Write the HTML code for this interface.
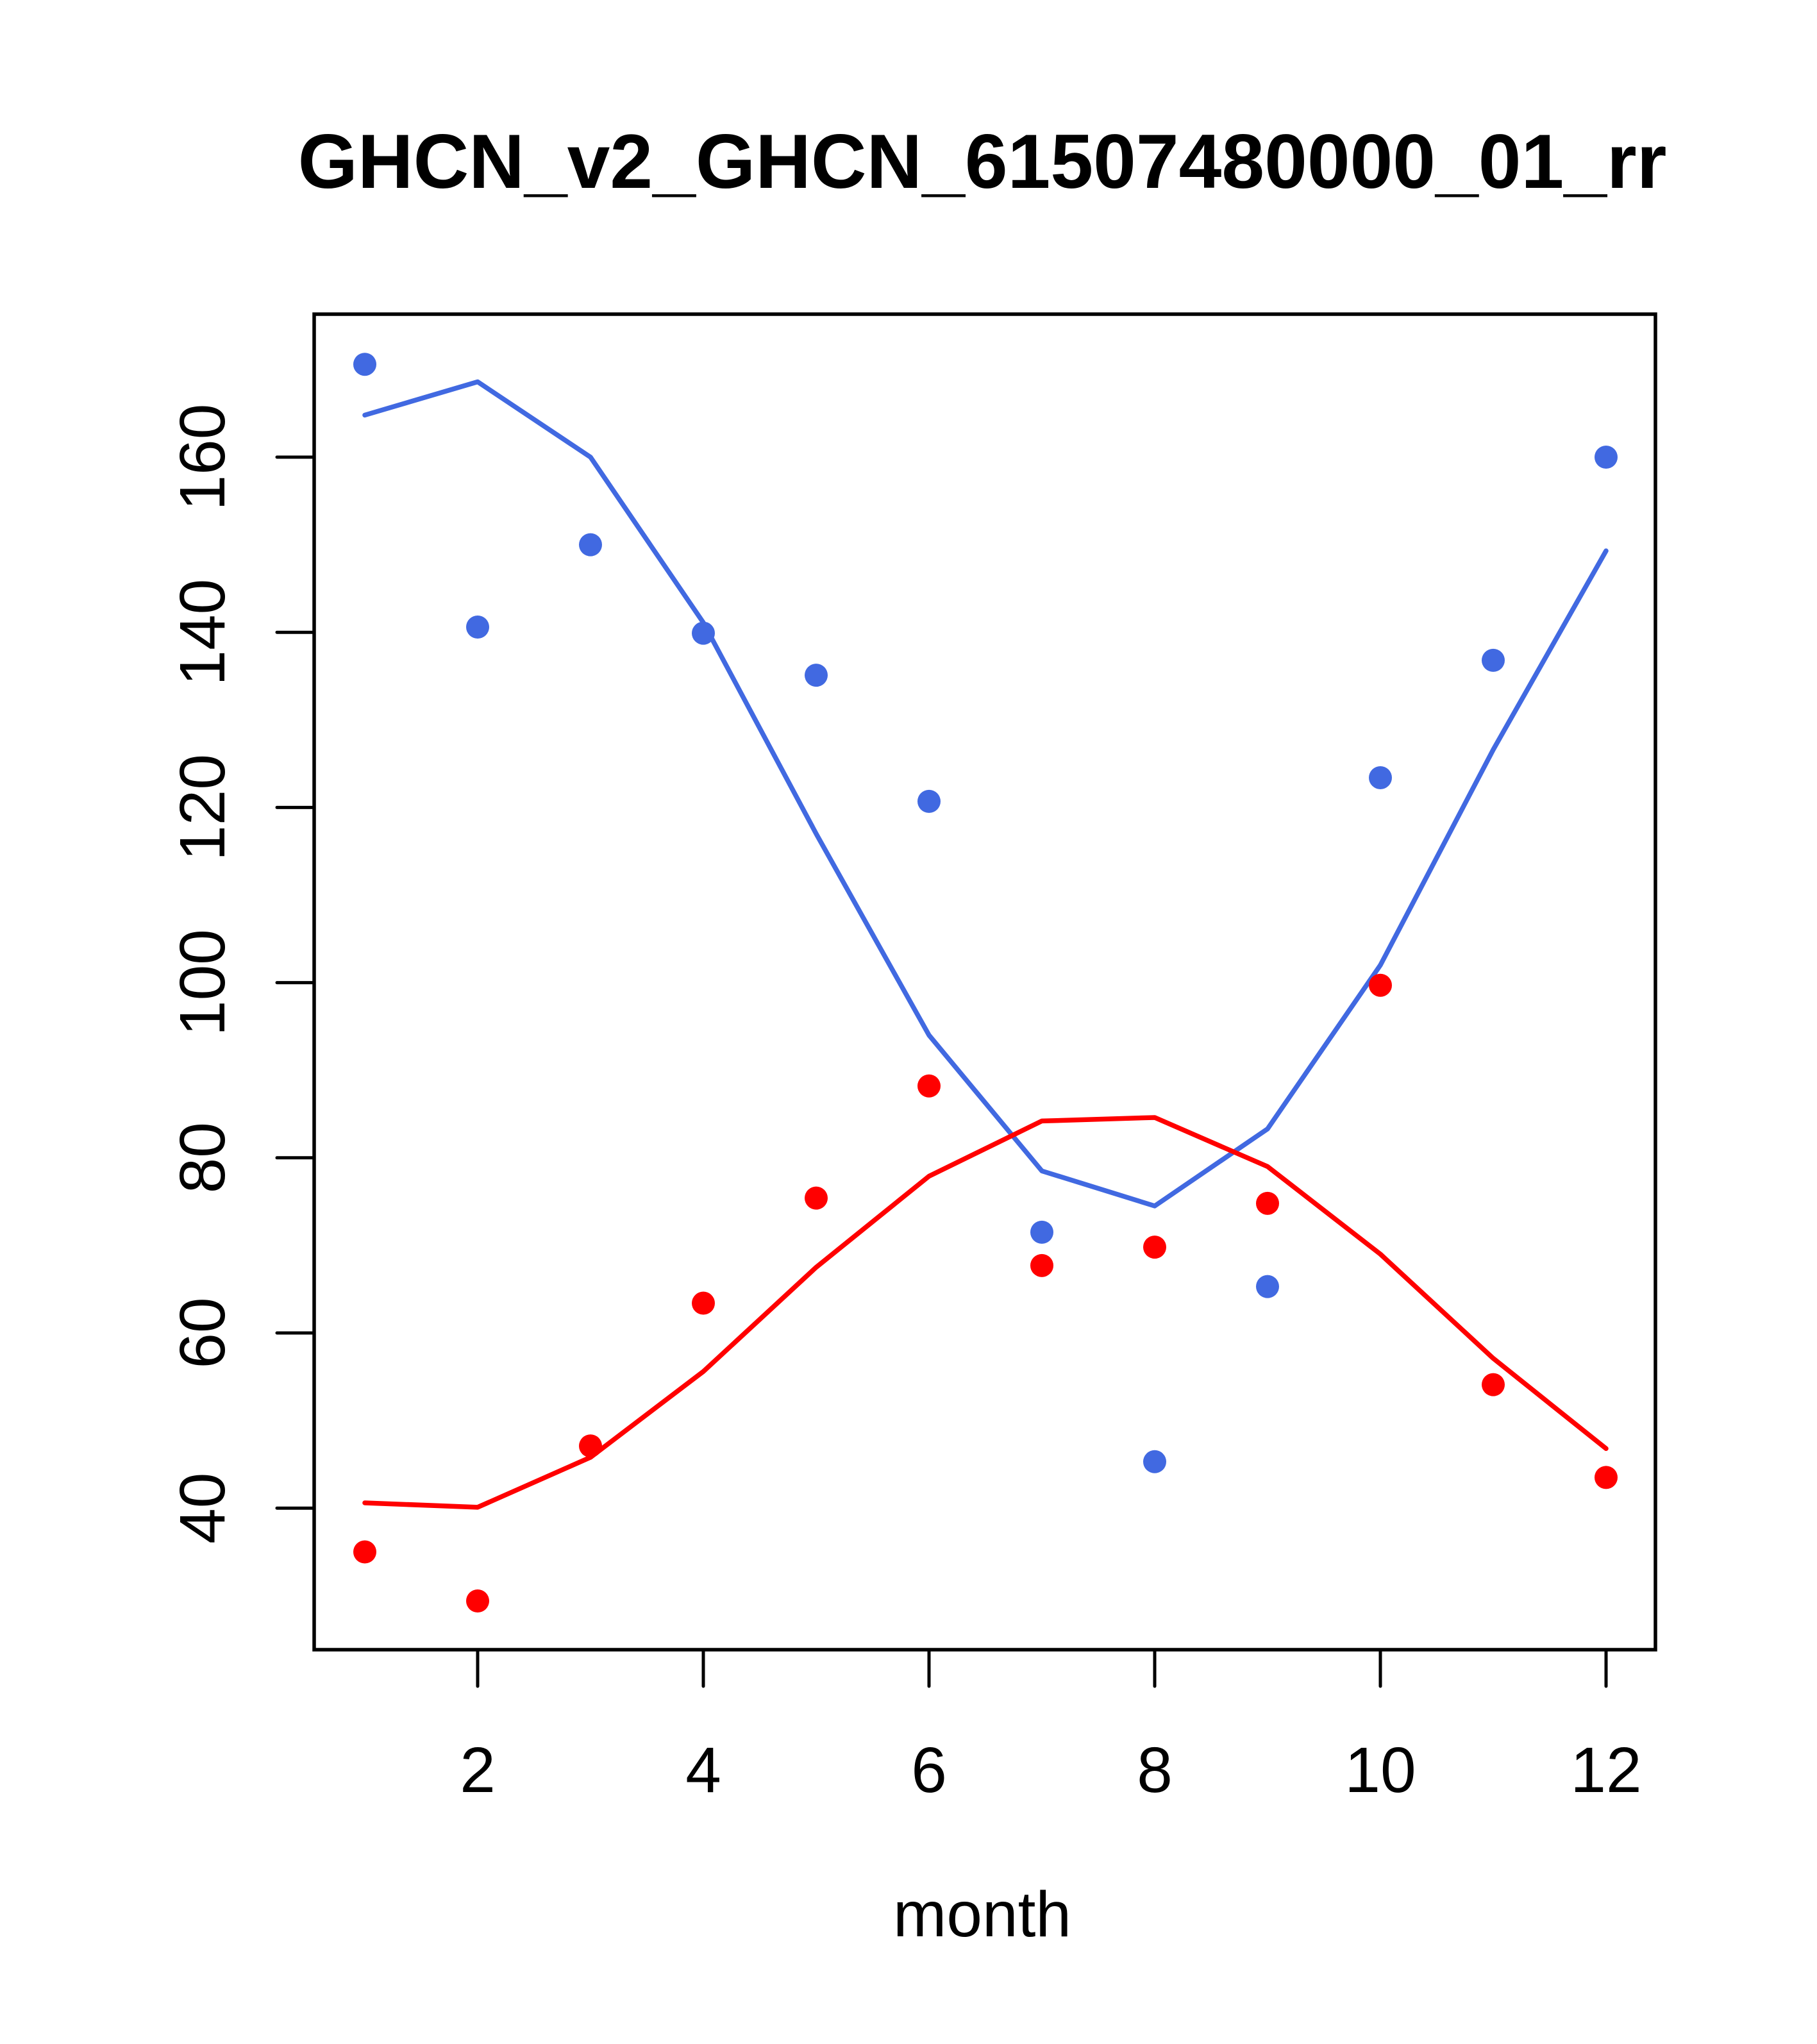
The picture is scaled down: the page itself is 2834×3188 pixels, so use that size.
<!DOCTYPE html>
<html><head><meta charset="utf-8"><style>body{margin:0;background:#fff}svg{display:block}text{font-family:"Liberation Sans",Arial,sans-serif}</style></head>
<body>
<svg id="chart" width="2834" height="3188" xmlns="http://www.w3.org/2000/svg">
<rect width="2834" height="3188" fill="#fff"/>
<text x="1532" y="293" font-size="120" font-weight="bold" text-anchor="middle">GHCN_v2_GHCN_61507480000_01_rr</text>
<text x="1532" y="3020" font-size="100" text-anchor="middle">month</text>
<g id="marks"></g>
<rect x="490" y="490" width="2092" height="2083" fill="none" stroke="#000" stroke-width="5.5"/>
</svg>
<script>
const months=[1,2,3,4,5,6,7,8,9,10,11,12];
const bluePoints=[170.6,140.6,150,139.9,135.1,120.7,71.5,45.3,65.3,123.4,136.8,160];
const blueLine=[164.8,168.6,160,141.1,117,94,78.5,74.5,83.3,102,126.6,149.3];
const redPoints=[35,29.4,47.1,63.4,75.4,88.2,67.7,69.8,74.8,99.7,54.1,43.5];
const redLine=[40.6,40.1,45.8,55.6,67.5,77.9,84.2,84.6,79,69,57.1,46.8];
const xTicks=[2,4,6,8,10,12];
const yTicks=[40,60,80,100,120,140,160];
const NS='http://www.w3.org/2000/svg';
const xs=m=>569+(m-1)*176;
const ys=v=>713+(160-v)*13.66;
const svg=document.getElementById('chart');
const g=document.getElementById('marks');
function mk(t,a){const e=document.createElementNS(NS,t);for(const k in a)e.setAttribute(k,a[k]);return e;}
xTicks.forEach(t=>{
 const l=mk('line',{x1:xs(t),x2:xs(t),y1:2573,y2:2630,stroke:'#000','stroke-width':5,'stroke-linecap':'round'});
 
 
 svg.appendChild(l);
 const tx=mk('text',{x:xs(t),y:2795,'font-size':100,'text-anchor':'middle'});
 tx.textContent=t;
 
 
 svg.appendChild(tx);
});
yTicks.forEach(t=>{
 const l=mk('line',{x1:432,x2:490,y1:ys(t),y2:ys(t),stroke:'#000','stroke-width':5,'stroke-linecap':'round'});
 
 
 svg.appendChild(l);
 const tx=mk('text',{x:350,y:ys(t),'font-size':100,'text-anchor':'middle',transform:`rotate(-90 350 ${ys(t)})`});
 tx.textContent=t;
 
 
 svg.appendChild(tx);
});
function line(vals,color,name){
 const p=mk('polyline',{points:vals.map((v,i)=>xs(months[i])+','+ys(v)).join(' '),fill:'none',stroke:color,'stroke-width':7.5,'stroke-linecap':'round','stroke-linejoin':'round'});
 
 
 g.appendChild(p);
}
function pts(vals,color,name){
 vals.forEach((v,i)=>{
  const c=mk('circle',{cx:xs(months[i]),cy:ys(v),r:18,fill:color});
  
  
  g.appendChild(c);
 });
}
line(blueLine,'#4169E1','blue-line');
line(redLine,'#FF0000','red-line');
pts(bluePoints,'#4169E1','blue-point');
pts(redPoints,'#FF0000','red-point');
</script>
</body></html>
